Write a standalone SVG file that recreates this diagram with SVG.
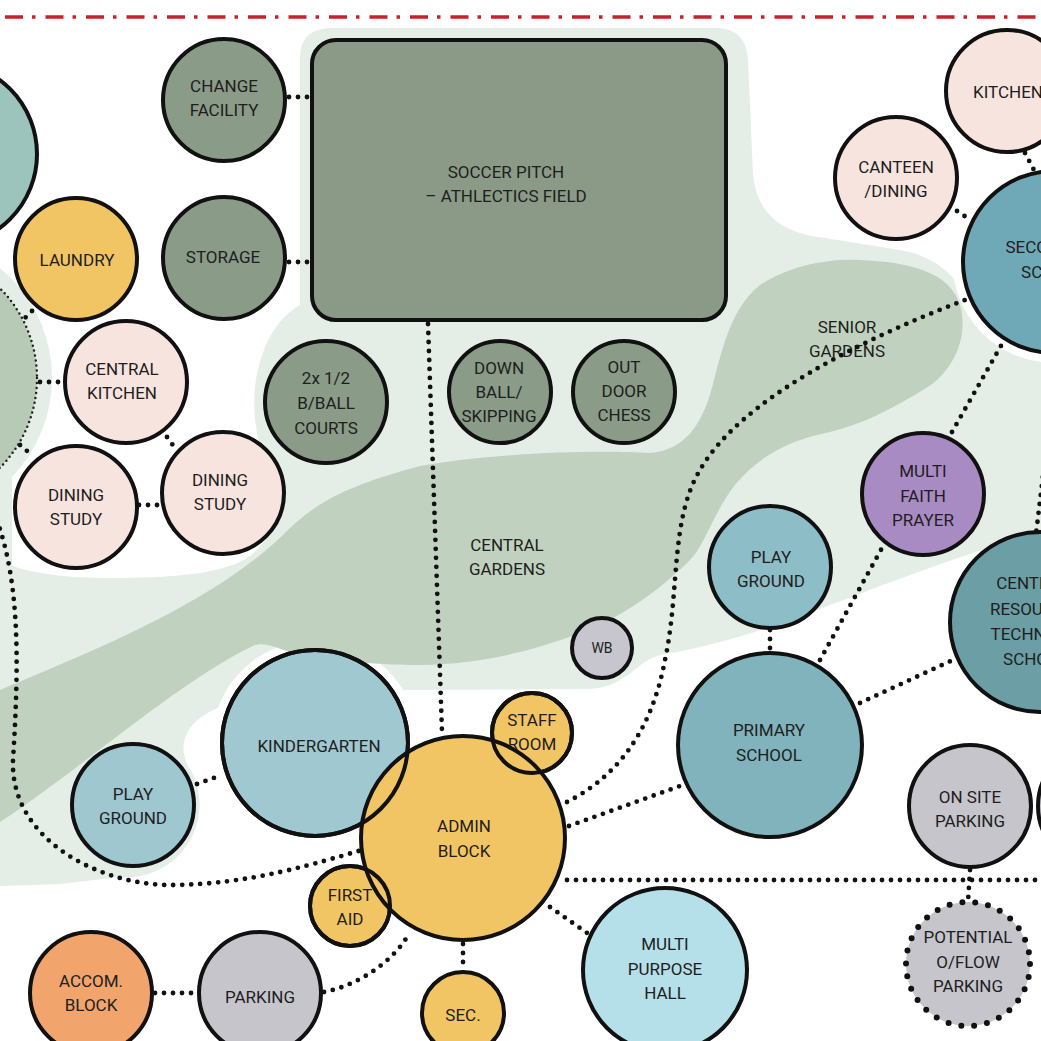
<svg xmlns="http://www.w3.org/2000/svg" width="1041" height="1041" viewBox="0 0 1041 1041">
<style>
.t{font-family:Roboto,"Liberation Sans",sans-serif;font-size:17px;fill:#1e1e1e;text-anchor:middle;dominant-baseline:central}
.ts{font-size:14px}
.n{stroke:#111;stroke-width:4}
.o{fill:none;stroke:#111;stroke-width:4}
.c{fill:none;stroke:#111;stroke-width:4.8;stroke-dasharray:0 9;stroke-linecap:round}
.sport{fill:#8a9b88}
.pink{fill:#f7e4df}
.yel{fill:#f2c564}
.gray{fill:#c6c5cb}
</style>
<rect width="1041" height="1041" fill="#fff"/>
<line x1="0" y1="17" x2="1041" y2="17" stroke="#c9202b" stroke-width="3.5" stroke-dasharray="18 9 3.5 10" stroke-dashoffset="-5"/>
<g id="landscape">
<path fill="#e5ede7" d="M300,58 Q300,28 332,28 L716,28 Q746,28 748,60 L753,175 Q758,226 812,236 L900,250 Q935,256 954,279 A101,101 0 0 0 1041,362 L1041,532 C990,545 900,578 830,605 C780,625 720,645 660,655 C635,662 628,686 590,689 L403,690 A103,103 0 0 0 218,708 C188,720 172,745 193,774 A73,73 0 0 1 120,877 L60,884 L0,886 L0,560 C20,572 60,578 110,578 C170,578 230,575 255,552 C280,528 278,495 268,470 C255,440 250,400 258,370 C265,340 278,318 300,305 Z"/>
<circle cx="-90" cy="378" r="142" fill="#e5ede7"/>
<rect x="-2" y="440" width="14" height="130" fill="#e5ede7"/>
<path fill="#c0d2bf" d="M0,690 C100,648 220,600 290,528 C320,500 350,485 420,466 C500,452 600,450 650,453 C685,450 700,425 710,395 C720,360 728,310 760,285 C790,265 830,258 860,260 C910,262 950,272 960,305 C970,340 950,375 923,390 C890,410 860,425 830,432 C790,440 760,455 735,485 C712,515 705,545 690,560 C670,580 630,615 580,633 C530,652 480,664 420,665 C380,665 350,662 300,655 C280,650 268,642 255,645 C180,680 80,770 0,822 Z"/>
<text class="t" x="507" y="545">CENTRAL</text>
<text class="t" x="507" y="569">GARDENS</text>
<text class="t" x="847" y="327">SENIOR</text>
<text class="t" x="847" y="351">GARDENS</text>
</g>
<g id="connectors">
<line class="c" x1="289" y1="97" x2="309" y2="97"/>
<line class="c" x1="289" y1="262" x2="309" y2="262"/>
<line class="c" x1="428" y1="324" x2="442" y2="732"/>
<line class="c" x1="32" y1="311" x2="21" y2="322"/>
<line class="c" x1="40" y1="382" x2="64" y2="382"/>
<line class="c" x1="20" y1="445" x2="33" y2="456"/>
<line class="c" x1="167" y1="437" x2="175" y2="448"/>
<line class="c" x1="139" y1="505" x2="161" y2="505"/>
<path class="c" d="M-3,520 C18,580 20,650 13,760 C10,840 100,885 170,885 C250,885 320,862 362,850"/>
<line class="c" x1="197" y1="784" x2="222" y2="775"/>
<line class="c" x1="155" y1="993" x2="197" y2="993"/>
<path class="c" d="M324,992 C360,985 395,960 410,932"/>
<line class="c" x1="463" y1="944" x2="463" y2="971"/>
<line class="c" x1="550" y1="907" x2="590" y2="935"/>
<line class="c" x1="569" y1="826" x2="680" y2="786"/>
<line class="c" x1="567" y1="880" x2="1041" y2="880"/>
<path class="c" d="M567,802 C610,780 650,740 665,660 C680,590 670,520 700,470 C740,400 860,340 965,300"/>
<line class="c" x1="770" y1="630" x2="770" y2="651"/>
<line class="c" x1="820" y1="660" x2="882" y2="548"/>
<line class="c" x1="952" y1="432" x2="1002" y2="344"/>
<line class="c" x1="860" y1="703" x2="955" y2="659"/>
<line class="c" x1="1058" y1="352" x2="1036" y2="534"/>
<line class="c" x1="970" y1="870" x2="968" y2="902"/>
<line class="c" x1="1025" y1="153" x2="1035" y2="172"/>
<line class="c" x1="957" y1="211" x2="969" y2="219"/>
</g>
<g id="left-teal"><circle class="n" cx="-55" cy="154" r="92" fill="#9cc4bd"/></g>
<g id="left-garden"><circle cx="-90" cy="378" r="127" fill="#b7cab5" stroke="#222" stroke-width="2.5" stroke-dasharray="0 5" stroke-linecap="round"/></g>
<g id="change-facility"><circle class="n sport" cx="224" cy="100" r="61"/><text class="t" x="224" y="86">CHANGE</text><text class="t" x="224" y="110">FACILITY</text></g>
<g id="storage"><circle class="n sport" cx="224" cy="258" r="61"/><text class="t" x="223" y="257">STORAGE</text></g>
<g id="soccer-pitch"><rect class="n" x="312" y="40" width="414" height="280" rx="24" fill="#8a9a87"/><text class="t" x="506" y="172">SOCCER PITCH</text><text class="t" x="506" y="196">– ATHLECTICS FIELD</text></g>
<g id="laundry"><circle class="n yel" cx="76" cy="259" r="61"/><text class="t" x="77" y="260">LAUNDRY</text></g>
<g id="central-kitchen"><circle class="n pink" cx="126" cy="382" r="61"/><text class="t" x="122" y="369">CENTRAL</text><text class="t" x="122" y="393">KITCHEN</text></g>
<g id="dining-study-1"><circle class="n pink" cx="76" cy="507" r="61"/><text class="t" x="76" y="495">DINING</text><text class="t" x="76" y="519">STUDY</text></g>
<g id="dining-study-2"><circle class="n pink" cx="223" cy="493" r="61"/><text class="t" x="220" y="480">DINING</text><text class="t" x="220" y="504">STUDY</text></g>
<g id="bball"><circle class="n sport" cx="326" cy="402" r="61"/><text class="t" x="326" y="378">2x 1/2</text><text class="t" x="326" y="403">B/BALL</text><text class="t" x="326" y="428">COURTS</text></g>
<g id="down-ball"><circle class="n sport" cx="500" cy="392" r="51"/><text class="t" x="499" y="368">DOWN</text><text class="t" x="499" y="392">BALL/</text><text class="t" x="499" y="416">SKIPPING</text></g>
<g id="outdoor-chess"><circle class="n sport" cx="624" cy="392" r="51"/><text class="t" x="624" y="367">OUT</text><text class="t" x="624" y="391">DOOR</text><text class="t" x="624" y="415">CHESS</text></g>
<g id="wb"><circle class="n" cx="602" cy="648" r="30" fill="#c7c6ce"/><text class="t ts" x="602" y="648">WB</text></g>
<g id="kitchen"><circle class="n pink" cx="1007" cy="91" r="61"/><text class="t" x="1008" y="92">KITCHEN</text></g>
<g id="canteen"><circle class="n pink" cx="896" cy="178" r="61"/><text class="t" x="896" y="167">CANTEEN</text><text class="t" x="896" y="191">/DINING</text></g>
<g id="secondary-school"><circle class="n" cx="1054" cy="262" r="91" fill="#6fa9b7"/><text class="t" x="1054" y="247">SECONDARY</text><text class="t" x="1054" y="272">SCHOOL</text></g>
<g id="multi-faith"><circle class="n" cx="923" cy="494" r="61" fill="#a98bc4"/><text class="t" x="923" y="471">MULTI</text><text class="t" x="923" y="496">FAITH</text><text class="t" x="923" y="520">PRAYER</text></g>
<g id="playground-2"><circle class="n" cx="770" cy="567" r="61" fill="#8dbdc6"/><text class="t" x="771" y="557">PLAY</text><text class="t" x="771" y="581">GROUND</text></g>
<g id="central-resource"><circle class="n" cx="1040" cy="622" r="90" fill="#6b9ea5"/><text class="t" x="1033" y="583">CENTRAL</text><text class="t" x="1032" y="609">RESOURCE</text><text class="t" x="1045" y="634">TECHNOLOGY</text><text class="t" x="1036" y="659">SCHOOL</text></g>
<g id="primary-school"><circle class="n" cx="770" cy="745" r="92" fill="#80b3bb"/><text class="t" x="769" y="730">PRIMARY</text><text class="t" x="769" y="755">SCHOOL</text></g>
<g id="on-site-parking"><circle class="n gray" cx="970" cy="806" r="61"/><text class="t" x="970" y="797">ON SITE</text><text class="t" x="970" y="821">PARKING</text></g>
<g id="right-edge-node"><circle class="n gray" cx="1100" cy="806" r="62"/></g>
<g id="overflow-parking"><circle cx="968" cy="964" r="62" fill="#c6c5cb" stroke="#111" stroke-width="6" stroke-dasharray="0 13" stroke-linecap="round"/><text class="t" x="968" y="937">POTENTIAL</text><text class="t" x="968" y="962">O/FLOW</text><text class="t" x="968" y="986">PARKING</text></g>
<g id="kindergarten"><circle class="n" cx="315" cy="743" r="93" fill="#a0c8d0"/><text class="t" x="319" y="746">KINDERGARTEN</text></g>
<g id="playground-1"><circle class="n" cx="133" cy="805" r="61" fill="#9ec7d0"/><text class="t" x="133" y="794">PLAY</text><text class="t" x="133" y="818">GROUND</text></g>
<g id="staff-room"><circle class="n yel" cx="532" cy="733" r="40"/></g>
<g id="first-aid"><circle class="n yel" cx="350" cy="906" r="40"/></g>
<g id="admin-block"><circle class="n yel" cx="463" cy="838" r="102"/><text class="t" x="464" y="826">ADMIN</text><text class="t" x="464" y="851">BLOCK</text></g>
<g id="overlap-outlines"><circle class="o" cx="315" cy="743" r="93"/><circle class="o" cx="532" cy="733" r="40"/><circle class="o" cx="350" cy="906" r="40"/>
<text class="t" x="532" y="720">STAFF</text><text class="t" x="532" y="744">ROOM</text><text class="t" x="350" y="895">FIRST</text><text class="t" x="350" y="919">AID</text></g>
<g id="sec"><circle class="n yel" cx="463" cy="1013" r="41"/><text class="t" x="463" y="1015">SEC.</text></g>
<g id="multi-purpose-hall"><circle class="n" cx="665" cy="970" r="82" fill="#b5e0e9"/><text class="t" x="665" y="944">MULTI</text><text class="t" x="665" y="969">PURPOSE</text><text class="t" x="665" y="993">HALL</text></g>
<g id="accom-block"><circle class="n" cx="91" cy="993" r="61" fill="#f1a46c"/><text class="t" x="91" y="981">ACCOM.</text><text class="t" x="91" y="1005">BLOCK</text></g>
<g id="parking"><circle class="n gray" cx="260" cy="993" r="61"/><text class="t" x="260" y="997">PARKING</text></g>
</svg>
